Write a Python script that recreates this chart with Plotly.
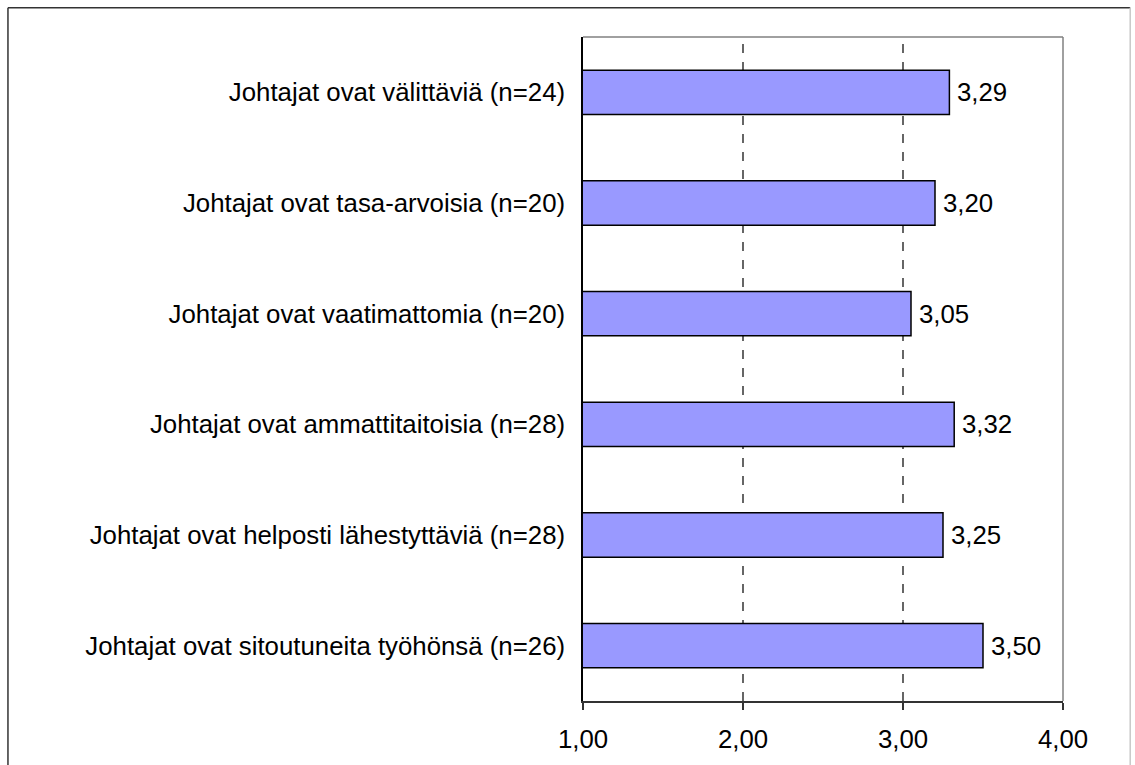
import plotly.graph_objects as go

# Leadership ratings, mean score on a 1-4 scale
categories = [
    "Johtajat ovat välittäviä (n=24)",
    "Johtajat ovat tasa-arvoisia (n=20)",
    "Johtajat ovat vaatimattomia (n=20)",
    "Johtajat ovat ammattitaitoisia (n=28)",
    "Johtajat ovat helposti lähestyttäviä (n=28)",
    "Johtajat ovat sitoutuneita työhönsä (n=26)",
]
scores = [3.29, 3.20, 3.05, 3.32, 3.25, 3.50]
tick_vals = [1, 2, 3, 4]
tick_text = ["1,00", "2,00", "3,00", "4,00"]
grid_vals = [2, 3]

FONT = "Liberation Sans, Arial, sans-serif"
FS = 25.8

fig = go.Figure(
    go.Bar(
        y=categories,
        x=scores,
        orientation="h",
        marker=dict(color="#9999FF", line=dict(color="black", width=1.5)),
        hoverinfo="x+y",
    )
)

# Value labels to the right of each bar, with decimal comma
annotations = [
    dict(
        x=v, y=c, xref="x", yref="y",
        text=f"{v:.2f}".replace(".", ","),
        showarrow=False, xanchor="left", yanchor="middle", xshift=6,
        font=dict(family=FONT, size=FS, color="black"),
    )
    for c, v in zip(categories, scores)
]

shapes = []
# Dashed vertical gridlines
for g in grid_vals:
    shapes.append(dict(type="line", xref="x", yref="paper", x0=g, x1=g, y0=0, y1=1,
                       line=dict(color="black", width=1.2, dash="dash"), layer="below"))
# Plot-area frame: grey top and right edges
shapes.append(dict(type="line", xref="paper", yref="paper", x0=0, x1=1, y0=1, y1=1,
                   line=dict(color="#808080", width=1.5)))
shapes.append(dict(type="line", xref="paper", yref="paper", x0=1, x1=1, y0=0, y1=1,
                   line=dict(color="#808080", width=1.5)))
# Outer chart border
shapes.append(dict(type="line", xref="paper", yref="paper", x0=-1.198, x1=-1.198, y0=-0.2, y1=1.044,
                   line=dict(color="#333333", width=1.5)))
shapes.append(dict(type="line", xref="paper", yref="paper", x0=-1.198, x1=1.14, y0=1.044, y1=1.044,
                   line=dict(color="#333333", width=1.5)))
shapes.append(dict(type="line", xref="paper", yref="paper", x0=1.14, x1=1.14, y0=-0.2, y1=1.044,
                   line=dict(color="#C8C8C8", width=1.5)))

fig.update_layout(
    width=1135, height=765,
    margin=dict(l=583, r=72, t=37, b=64, autoexpand=False),
    paper_bgcolor="white", plot_bgcolor="white",
    bargap=0.6,
    showlegend=False,
    font=dict(family=FONT, size=FS, color="black"),
    shapes=shapes,
    annotations=annotations,
)
fig.update_xaxes(
    range=[1, 4], tickvals=tick_vals, ticktext=tick_text,
    showgrid=False, zeroline=False,
    showline=True, linecolor="#333333", linewidth=1.5,
    ticks="outside", ticklen=7, tickcolor="#333333", tickwidth=1.5,
    ticklabelstandoff=7,
    tickfont=dict(family=FONT, size=FS, color="black"),
)
fig.update_yaxes(
    autorange="reversed", showgrid=False, zeroline=False,
    showline=True, linecolor="black", linewidth=1.5,
    ticks="", ticklabelstandoff=11,
    tickfont=dict(family=FONT, size=FS, color="black"),
)

fig.write_html("out.html")
